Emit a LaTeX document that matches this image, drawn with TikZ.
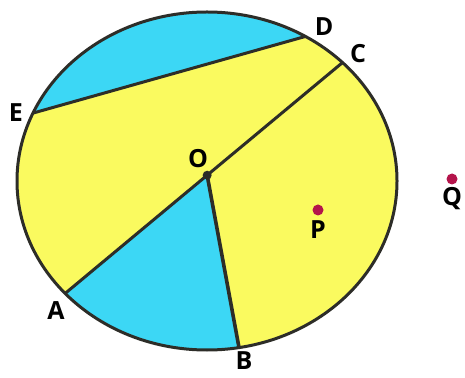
\documentclass[tikz,border=0pt]{standalone}
\usepackage{fontspec}
\setmainfont{Open Sans}
\usetikzlibrary{calc}
\definecolor{yel}{RGB}{250,250,95}
\definecolor{cyn}{RGB}{60,215,245}
\definecolor{edge}{RGB}{45,45,40}
\definecolor{dotred}{RGB}{180,20,75}
\begin{document}
\begin{tikzpicture}[x=1pt,y=1pt,
  lbl/.style={font=\fontsize{25}{25}\selectfont\bfseries, text=black, inner sep=0pt, text depth=0pt},
  outline/.style={draw=edge, line width=3pt, line join=round},
  ptdot/.style={circle, fill=dotred, minimum size=11pt, inner sep=0pt}]
\useasboundingbox (0,0) rectangle (465,377);
\coordinate (M) at (207,196);
\coordinate (D) at ($(M)+(58.8:190pt and 169pt)$);
\coordinate (C) at ($(M)+(44.5:190pt and 169pt)$);
\coordinate (E) at ($(M)+(156.3:190pt and 169pt)$);
\coordinate (A) at ($(M)+(221.7:190pt and 169pt)$);
\coordinate (B) at ($(M)+(279.7:190pt and 169pt)$);
\coordinate (O) at ($(A)!0.512!(C)$);
% fills
\fill[yel] (M) ellipse [x radius=190pt, y radius=169pt];
\fill[cyn] (E) -- (D) arc[start angle=58.8, end angle=156.3, x radius=190pt, y radius=169pt] -- cycle;
\fill[cyn] (O) -- (A) arc[start angle=221.7, end angle=279.7, x radius=190pt, y radius=169pt] -- cycle;
% lines
\draw[outline] (E) -- (D);
\draw[outline] (A) -- (O) -- (C);
\draw[outline, line width=3.6pt] (O) -- (B);
\draw[outline] (M) ellipse [x radius=190pt, y radius=169pt];
\fill[edge] (O) circle (4.5pt);
% points
\node[ptdot] (P) at (318,167) {};
\node[ptdot] (Q) at (452,198) {};
% labels
\node[lbl] (Dl) at (324,350) {D};
\node[lbl] (Cl) at (358,324) {C};
\node[lbl] (El) at (16,264) {E};
\node[lbl] (Al) at (56,66) {A};
\node[lbl] (Bl) at (244,16) {B};
\node[lbl] (Ol) at (198,219) {O};
\node[lbl] (Pl) at (318,147) {P};
\node[lbl] (Ql) at (452,181) {Q};
\end{tikzpicture}
\end{document}
